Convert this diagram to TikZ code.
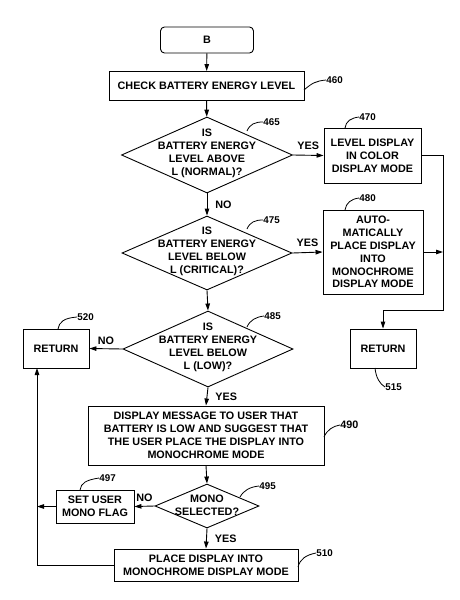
\documentclass[tikz,border=0pt]{standalone}
\usepackage{fontspec}
\setmainfont{Liberation Sans}
\usetikzlibrary{shapes.geometric,arrows.meta}
\begin{document}
\begin{tikzpicture}[x=1pt,y=-1pt,
  line width=0.9pt,
  every node/.style={font=\bfseries\fontsize{10.8}{12.9}\selectfont, align=center, inner sep=0pt},
  box/.style={draw, rectangle},
  dia/.style={draw, diamond, inner sep=0pt},
  lbl/.style={font=\bfseries\fontsize{9.8}{11}\selectfont, anchor=west},
  arr/.style={-{Triangle[length=7pt,width=4.5pt]}},
  lead/.style={line width=0.8pt}]
\useasboundingbox (0,0) rectangle (460,600);
% nodes
\node[box, rounded corners=4pt, minimum width=93pt, minimum height=26pt] (b) at (207,40) {B};
\node[box, minimum width=195pt, minimum height=29pt] (n460) at (206.5,86) {CHECK BATTERY ENERGY LEVEL};
\node[dia, minimum width=171pt, minimum height=76pt] (n465) at (207,155) {};
\node (t465) at (207,153) {IS\\BATTERY ENERGY\\LEVEL ABOVE\\L (NORMAL)?};
\node[box, minimum width=97pt, minimum height=55pt] (n470) at (372.5,155.5) {LEVEL DISPLAY\\IN COLOR\\DISPLAY MODE};
\node[dia, minimum width=170pt, minimum height=74pt] (n475) at (207,253) {};
\node (t475) at (207,251) {IS\\BATTERY ENERGY\\LEVEL BELOW\\L (CRITICAL)?};
\node[box, minimum width=100pt, minimum height=84pt] (n480) at (373,252) {AUTO-\\MATICALLY\\PLACE DISPLAY\\INTO\\MONOCHROME\\DISPLAY MODE};
\node[dia, minimum width=170pt, minimum height=76pt] (n485) at (208,349) {};
\node (t485) at (208,347) {IS\\BATTERY ENERGY\\LEVEL BELOW\\L (LOW)?};
\node[box, minimum width=66pt, minimum height=39pt] (n515) at (383,348.5) {RETURN};
\node[box, minimum width=66pt, minimum height=39pt] (n520) at (56,348.5) {RETURN};
\node[box, minimum width=236pt, minimum height=59pt] (n490) at (206,435.5) {DISPLAY MESSAGE TO USER THAT\\BATTERY IS LOW AND SUGGEST THAT\\THE USER PLACE THE DISPLAY INTO\\MONOCHROME MODE};
\node[dia, minimum width=104pt, minimum height=44pt] (n495) at (207,506) {};
\node (t495) at (207,505) {MONO\\SELECTED?};
\node[box, minimum width=78pt, minimum height=33pt] (n497) at (95,506.5) {SET USER\\MONO FLAG};
\node[box, minimum width=184pt, minimum height=32pt] (n510) at (206,565) {PLACE DISPLAY INTO\\MONOCHROME DISPLAY MODE};
% junction coordinates
\coordinate (r1) at (443,155.5);
\coordinate (r2) at (443,252);
\coordinate (r3) at (443,310);
\coordinate (r4) at (383,310);
\coordinate (l1) at (37,565);
\coordinate (l2) at (37,506.5);
\coordinate (l3) at (37,368);
% connectors
\draw[arr] (b) -- (n460);
\draw[arr] (n460) -- (n465);
\draw[arr] (n465.east) -- (n470.west) node[midway, above=5pt] {YES};
\draw[arr] (n465.south) -- (n475.north) node[midway, right=8pt] {NO};
\draw[arr] (n475.east) -- (n480.west) node[midway, above=5pt] {YES};
\draw[arr] (n475.south) -- (n485.north);
\draw (n470.east) -- (r1) -- (r3) -- (r4);
\draw[arr] (r4) -- (n515.north);
\draw[arr] (n480.east) -- (r2);
\draw[arr] (n485.west) -- (n520.east) node[midway, above=4pt] {NO};
\draw[arr] (n485.south) -- (n490.north) node[midway, right=8pt] {YES};
\draw[arr] (n490.south) -- (n495.north);
\draw[arr] (n495.west) -- (n497.east) node[midway, above=4pt] {NO};
\draw[arr] (n495.south) -- (n510.north) node[midway, right=8pt] {YES};
\draw[arr] (n497.west) -- (l2);
\draw (n510.west) -- (l1);
\draw[arr] (l1) -- (l3);
% reference labels
\node[lbl] (k460) at (326,80) {460};
\draw[lead] (304,90) .. controls (312,83) and (316,81) .. (k460.west);
\node[lbl] (k465) at (263,122) {465};
\draw[lead] (247,131) .. controls (250,124) and (255,122) .. (k465.west);
\node[lbl] (k470) at (359,117) {470};
\draw[lead] (345,128) .. controls (346,121) and (351,118) .. (k470.west);
\node[lbl] (k475) at (263,220) {475};
\draw[lead] (247,229) .. controls (250,222) and (255,220) .. (k475.west);
\node[lbl] (k480) at (359,198) {480};
\draw[lead] (345,210) .. controls (346,203) and (351,199) .. (k480.west);
\node[lbl] (k485) at (264,316) {485};
\draw[lead] (247,327) .. controls (250,320) and (256,317) .. (k485.west);
\node[lbl] (k520) at (77,317) {520};
\draw[lead] (58,329) .. controls (59,322) and (64,318) .. (k520.west);
\node[lbl] (k515) at (385,387) {515};
\draw[lead] (375,368) .. controls (376,378) and (380,384) .. (k515.west);
\node[lbl, font=\bfseries\fontsize{10.8}{12}\selectfont] (k490) at (340,425) {490};
\node[lbl] (k497) at (99,478) {497};
\draw[lead] (80,490) .. controls (81,483) and (86,480) .. (k497.west);
\draw[lead] (324,437) .. controls (327,430) and (333,426) .. (k490.west);
\node[lbl] (k495) at (259,486) {495};
\draw[lead] (240,497) .. controls (244,490) and (250,487) .. (k495.west);
\node[lbl] (k510) at (316,553) {510};
\draw[lead] (298,567) .. controls (300,559) and (306,555) .. (k510.west);
\end{tikzpicture}
\end{document}
